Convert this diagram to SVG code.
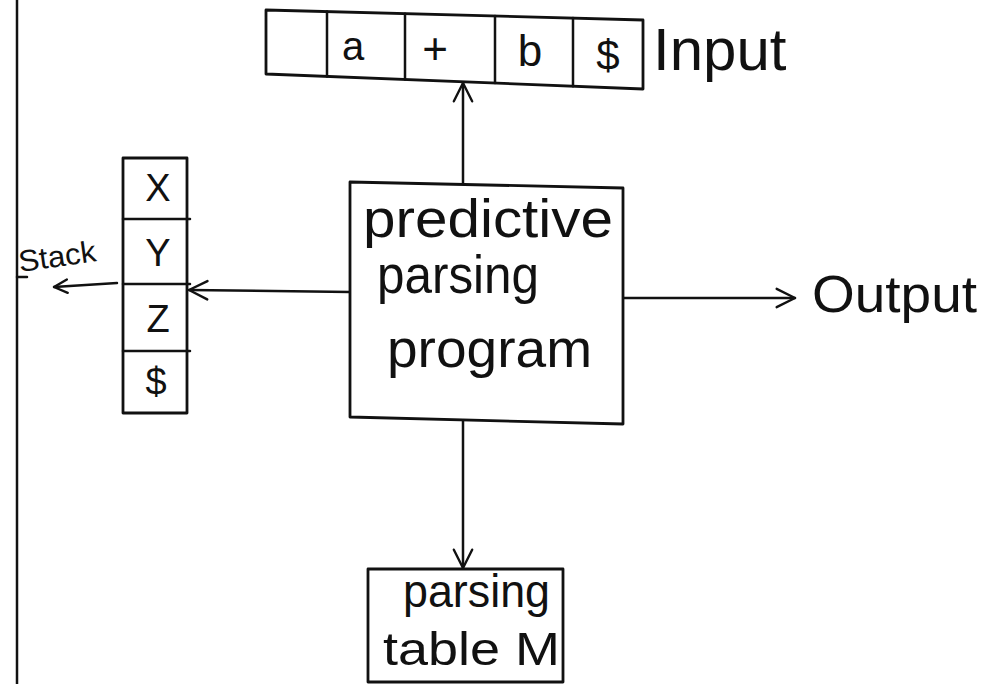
<svg xmlns="http://www.w3.org/2000/svg" width="984" height="684" viewBox="0 0 984 684">
<style>
.ln{stroke:#111;stroke-width:2.5;fill:none;stroke-linecap:round;stroke-linejoin:round}
.bx{stroke:#111;stroke-width:2.8;fill:#fff;stroke-linejoin:round}
.t{font-family:"Liberation Sans",Arial,sans-serif;fill:#111}
</style>
<defs>
<marker id="ah" viewBox="0 0 12 12" refX="11" refY="6" markerWidth="22" markerHeight="22" markerUnits="userSpaceOnUse" orient="auto">
<path d="M1,1 L11,6 L1,11" fill="none" stroke="#111" stroke-width="1.3" stroke-linecap="round" stroke-linejoin="round"/>
</marker>
<marker id="ahs" viewBox="0 0 12 12" refX="11" refY="6" markerWidth="16" markerHeight="16" markerUnits="userSpaceOnUse" orient="auto">
<path d="M1,1 L11,6 L1,11" fill="none" stroke="#111" stroke-width="1.8" stroke-linecap="round" stroke-linejoin="round"/>
</marker>
</defs>
<rect width="984" height="684" fill="#fff"/>
<g id="margin">
<line class="ln" x1="17" y1="0" x2="17" y2="684"/>
<line class="ln" x1="17" y1="277" x2="27" y2="277" stroke-width="1.5"/>
</g>
<g id="connectors">
<line class="ln" x1="463" y1="183" x2="463" y2="83" marker-end="url(#ah)"/>
<line class="ln" x1="350" y1="292" x2="189" y2="290" marker-end="url(#ah)"/>
<line class="ln" x1="623" y1="298" x2="795" y2="298" marker-end="url(#ah)"/>
<line class="ln" x1="463" y1="420" x2="463" y2="568" marker-end="url(#ah)"/>
<line class="ln" x1="117" y1="283" x2="54" y2="287" marker-end="url(#ahs)" stroke-width="3"/>
</g>
<g id="input-tape">
<polygon class="bx" points="266,10 643,20 643,89 266,74"/>
<line class="ln" x1="327" y1="11.6" x2="327" y2="76.4"/>
<line class="ln" x1="405" y1="13.7" x2="405" y2="79.5"/>
<line class="ln" x1="495" y1="16.1" x2="495" y2="83.1"/>
<line class="ln" x1="573" y1="18.1" x2="573" y2="86.2"/>
<text class="t" x="353" y="60" font-size="40" text-anchor="middle">a</text>
<text class="t" x="435" y="64" font-size="44" text-anchor="middle">+</text>
<text class="t" x="530" y="66" font-size="44" text-anchor="middle">b</text>
<text class="t" x="608" y="70" font-size="42" text-anchor="middle">$</text>
<text class="t" x="653" y="70" font-size="60">Input</text>
</g>
<g id="stack">
<rect class="bx" x="123" y="158" width="64" height="255"/>
<line class="ln" x1="123" y1="219" x2="190" y2="219"/>
<line class="ln" x1="123" y1="284" x2="190" y2="284"/>
<line class="ln" x1="123" y1="351" x2="190" y2="351"/>
<text class="t" x="158" y="201" font-size="38" text-anchor="middle">X</text>
<text class="t" x="158" y="266" font-size="38" text-anchor="middle">Y</text>
<text class="t" x="158" y="332" font-size="38" text-anchor="middle">Z</text>
<text class="t" x="156" y="395" font-size="38" text-anchor="middle">$</text>
<text class="t" x="20" y="272" font-size="30" textLength="78" lengthAdjust="spacingAndGlyphs" transform="rotate(-8 20 272)">Stack</text>
</g>
<g id="predictive-parsing-program">
<polygon class="bx" points="350,182 623,188 623,424 350,417"/>
<text class="t" x="363" y="237" font-size="54" textLength="250" lengthAdjust="spacingAndGlyphs">predictive</text>
<text class="t" x="377" y="293" font-size="54" textLength="162" lengthAdjust="spacingAndGlyphs">parsing</text>
<text class="t" x="387" y="367" font-size="54" textLength="205" lengthAdjust="spacingAndGlyphs">program</text>
</g>
<g id="output">
<text class="t" x="812" y="312" font-size="52" textLength="165" lengthAdjust="spacingAndGlyphs">Output</text>
</g>
<g id="parsing-table">
<rect class="bx" x="368" y="569" width="195" height="113"/>
<text class="t" x="403" y="607" font-size="46" textLength="147" lengthAdjust="spacingAndGlyphs">parsing</text>
<text class="t" x="383" y="665" font-size="46" textLength="177" lengthAdjust="spacingAndGlyphs">table M</text>
</g>
</svg>
